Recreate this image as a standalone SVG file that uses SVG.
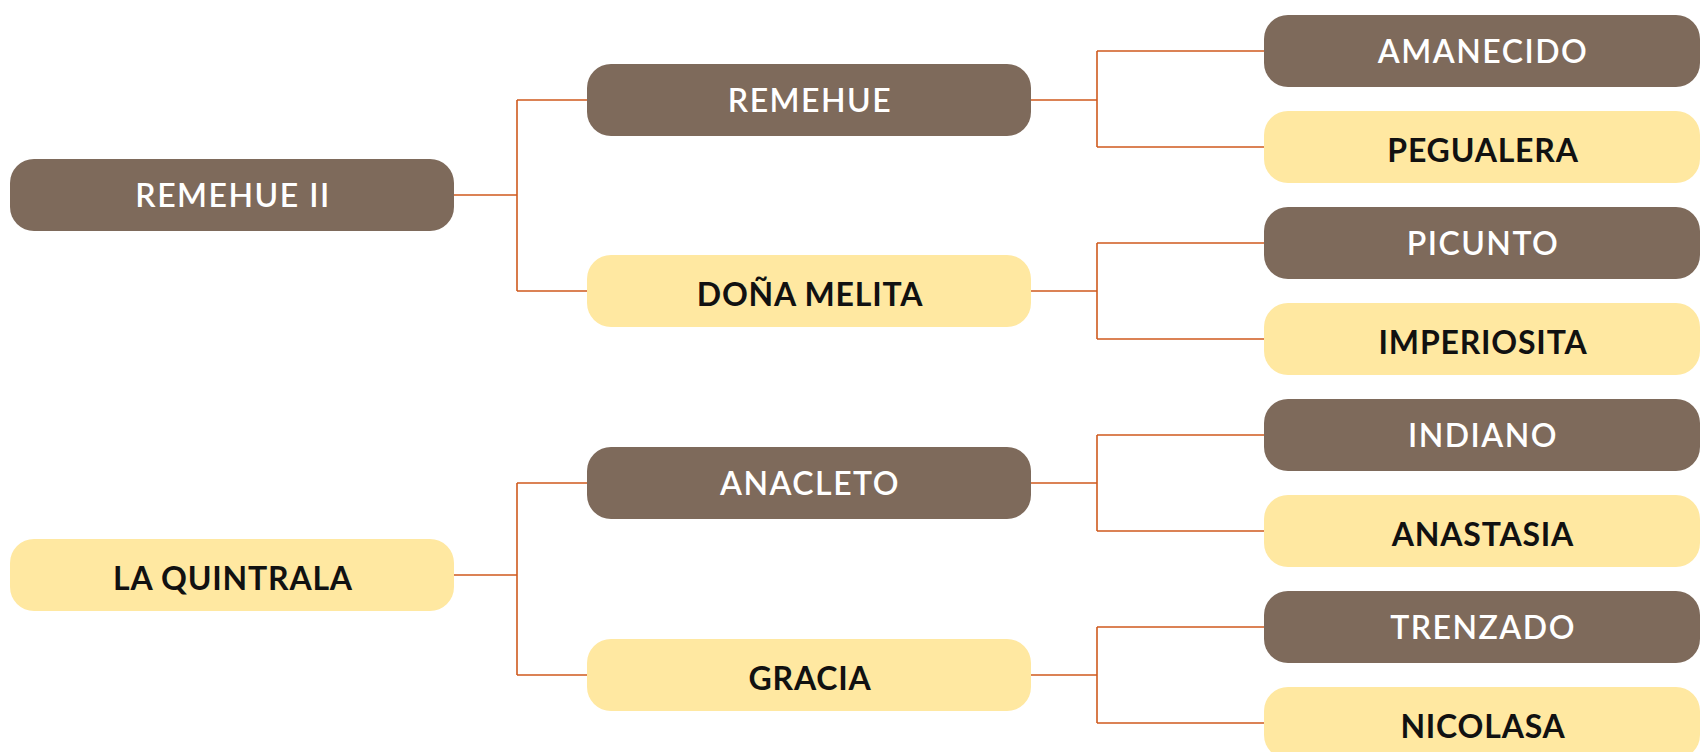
<svg xmlns="http://www.w3.org/2000/svg" width="1703" height="752" viewBox="0 0 1703 752">
<style>
.dark rect{fill:#7E6A5B}
.light rect{fill:#FFE8A1}
text{font-family:Lato,"Open Sans","Liberation Sans",sans-serif;font-size:32px;text-anchor:middle}
.dark text{fill:#FFFFFF;font-weight:600;letter-spacing:1.5px}
.light text{fill:#111111;font-weight:700;letter-spacing:0.8px}
#connectors path{fill:none;stroke:#CF5A1E;stroke-width:1.6}
</style>
<rect width="1703" height="752" fill="#FFFFFF"/>
<g id="connectors">
<path d="M454 195H517M517 100V291M517 100H587M517 291H587"/>
<path d="M454 575H517M517 483V675M517 483H587M517 675H587"/>
<path d="M1031 100H1097M1097 51V147M1097 51H1264M1097 147H1264"/>
<path d="M1031 291H1097M1097 243V339M1097 243H1264M1097 339H1264"/>
<path d="M1031 483H1097M1097 435V531M1097 435H1264M1097 531H1264"/>
<path d="M1031 675H1097M1097 627V723M1097 627H1264M1097 723H1264"/>
</g>
<g id="n-remehue-ii" class="dark"><rect x="10" y="159" width="444" height="72" rx="24"/><text x="233" y="207">REMEHUE II</text></g>
<g id="n-la-quintrala" class="light"><rect x="10" y="539" width="444" height="72" rx="24"/><text x="233" y="590">LA QUINTRALA</text></g>
<g id="n-remehue" class="dark"><rect x="587" y="64" width="444" height="72" rx="24"/><text x="810" y="112">REMEHUE</text></g>
<g id="n-dona-melita" class="light"><rect x="587" y="255" width="444" height="72" rx="24"/><text x="810" y="306">DOÑA MELITA</text></g>
<g id="n-anacleto" class="dark"><rect x="587" y="447" width="444" height="72" rx="24"/><text x="810" y="495">ANACLETO</text></g>
<g id="n-gracia" class="light"><rect x="587" y="639" width="444" height="72" rx="24"/><text x="810" y="690">GRACIA</text></g>
<g id="n-amanecido" class="dark"><rect x="1264" y="15" width="436" height="72" rx="24"/><text x="1483" y="63">AMANECIDO</text></g>
<g id="n-pegualera" class="light"><rect x="1264" y="111" width="436" height="72" rx="24"/><text x="1483" y="162">PEGUALERA</text></g>
<g id="n-picunto" class="dark"><rect x="1264" y="207" width="436" height="72" rx="24"/><text x="1483" y="255">PICUNTO</text></g>
<g id="n-imperiosita" class="light"><rect x="1264" y="303" width="436" height="72" rx="24"/><text x="1483" y="354">IMPERIOSITA</text></g>
<g id="n-indiano" class="dark"><rect x="1264" y="399" width="436" height="72" rx="24"/><text x="1483" y="447">INDIANO</text></g>
<g id="n-anastasia" class="light"><rect x="1264" y="495" width="436" height="72" rx="24"/><text x="1483" y="546">ANASTASIA</text></g>
<g id="n-trenzado" class="dark"><rect x="1264" y="591" width="436" height="72" rx="24"/><text x="1483" y="639">TRENZADO</text></g>
<g id="n-nicolasa" class="light"><rect x="1264" y="687" width="436" height="72" rx="24"/><text x="1483" y="738">NICOLASA</text></g>
</svg>
